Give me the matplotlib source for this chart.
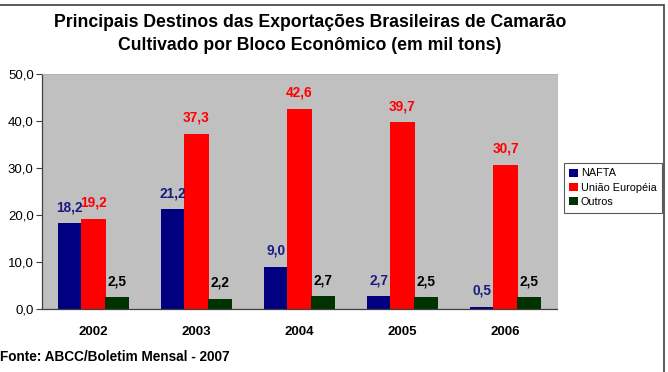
import numpy as np
import matplotlib.pyplot as plt
from matplotlib.patches import Rectangle

plt.rcParams['font.family'] = ['Liberation Sans', 'DejaVu Sans']

anos = ['2002', '2003', '2004', '2005', '2006']
nafta = [18.2, 21.2, 9.0, 2.7, 0.5]
uniao_europeia = [19.2, 37.3, 42.6, 39.7, 30.7]
outros = [2.5, 2.2, 2.7, 2.5, 2.5]

series = [
    ('NAFTA', nafta, '#000080', '#1a1a80', -0.23),
    ('União Européia', uniao_europeia, '#ff0000', '#ff0000', 0.0),
    ('Outros', outros, '#003300', '#000000', 0.225),
]

fig = plt.figure(figsize=(6.68, 3.72), dpi=100)
ax = fig.add_axes([42 / 668, 63 / 372, 515 / 668, 235 / 372])
ax.set_facecolor('#c0c0c0')

x = np.arange(len(anos))
width = 0.235
for name, vals, color, lcolor, off in series:
    bars = ax.bar(x + off, vals, width, color=color, label=name, zorder=2)
    for b, v in zip(bars, vals):
        ax.annotate(f'{v:.1f}'.replace('.', ','),
                    (b.get_x() + b.get_width() / 2, v),
                    xytext=(0, 11.5), textcoords='offset points',
                    ha='center', va='center', fontsize=9.8,
                    fontweight='bold', color=lcolor)

ax.set_xlim(-0.5, len(anos) - 0.5)
ax.set_ylim(0, 50)
ax.set_yticks(np.arange(0, 51, 10))
ax.set_yticklabels([f'{v:.1f}'.replace('.', ',') for v in np.arange(0, 51, 10)],
                   fontsize=9.5)
ax.set_xticks(x)
ax.set_xticklabels(anos, fontsize=9.5, fontweight='bold')
ax.tick_params(axis='x', length=0, pad=12)
ax.tick_params(axis='y', length=4, color='#404040', pad=2)
for s in ['top', 'right']:
    ax.spines[s].set_color('#b0b0b0')
    ax.spines[s].set_linewidth(0.6)
for s in ['left', 'bottom']:
    ax.spines[s].set_color('#404040')
    ax.spines[s].set_linewidth(0.9)

fig.text(310 / 668, 1 - 34 / 372,
         'Principais Destinos das Exportações Brasileiras de Camarão\n'
         'Cultivado por Bloco Econômico (em mil tons)',
         ha='center', va='center', fontsize=12.7, fontweight='bold',
         linespacing=1.5)

leg = fig.legend(loc='upper left', bbox_to_anchor=(564 / 668, 1 - 163 / 372),
                 fontsize=7.8, frameon=True, fancybox=False, edgecolor='#303030',
                 handlelength=0.8, handleheight=0.8, handletextpad=0.25,
                 borderpad=0.5, labelspacing=0.4, borderaxespad=0)
leg.get_frame().set_linewidth(0.8)

fig.text(0, 1 - 357 / 372, 'Fonte: ABCC/Boletim Mensal - 2007',
         ha='left', va='center', fontsize=9.8, fontweight='bold')

fig.patches.append(Rectangle((-10 / 668, -10 / 372), 674 / 668, 377 / 372,
                             transform=fig.transFigure, fill=False,
                             edgecolor='#404040', linewidth=1.2))

fig.savefig('out.png', dpi=100)
